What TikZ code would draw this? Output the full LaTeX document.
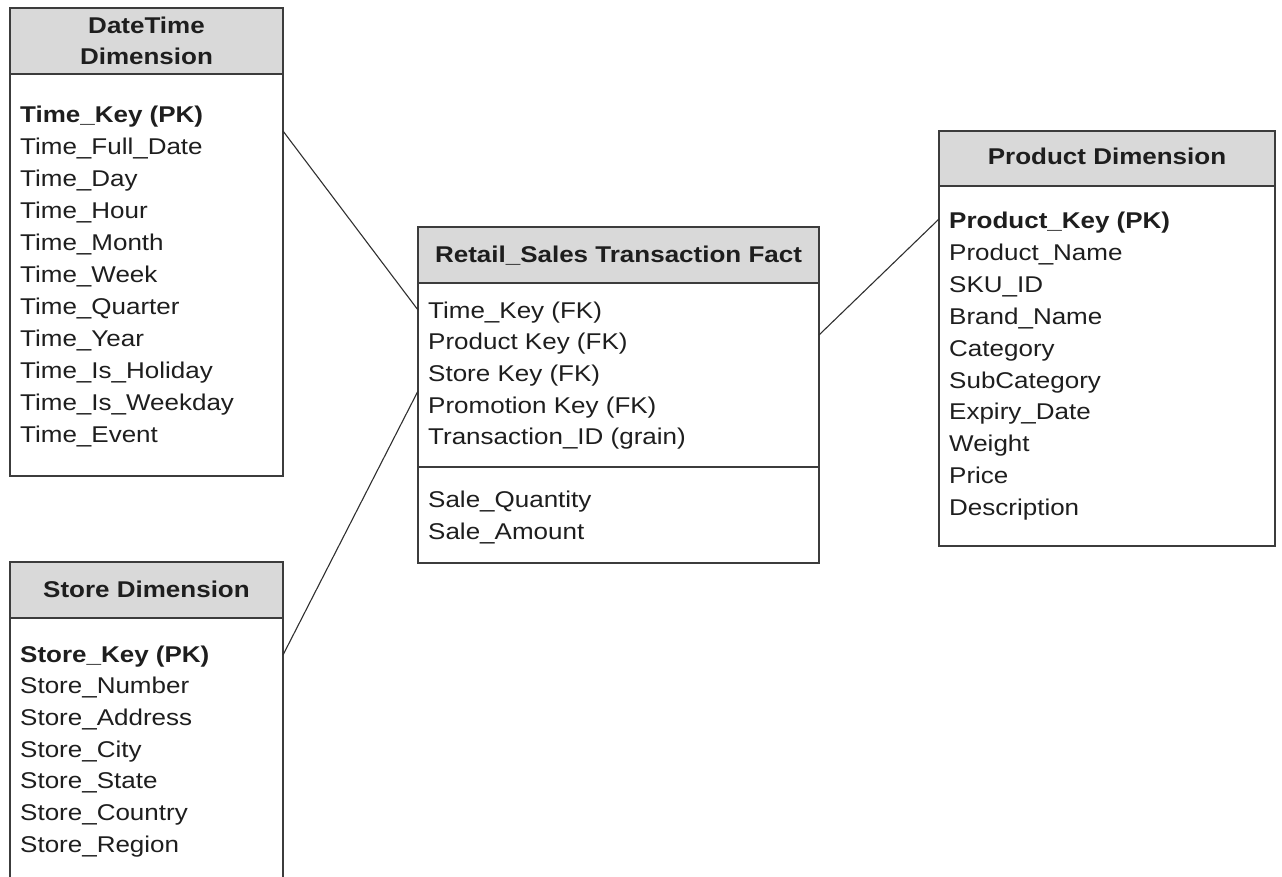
\documentclass[tikz,border=0pt]{standalone}
\usepackage{fontspec}
\setmainfont[FakeStretch=1.14]{Liberation Sans}
\definecolor{boxline}{HTML}{3C3C3C}
\definecolor{hdrgray}{HTML}{D9D9D9}
\definecolor{textcol}{HTML}{1E1E1E}
\definecolor{linkcol}{HTML}{303030}
\begin{document}
\begin{tikzpicture}[x=1pt,y=-1pt,
  box/.style={draw=boxline, line width=1.5pt, fill=white, anchor=north west, inner sep=0pt, outer sep=0pt},
  hdr/.style={box, fill=hdrgray},
  txt/.style={anchor=base west, inner sep=0pt, font=\fontsize{22.8}{26}\selectfont, text=textcol},
  btxt/.style={anchor=base west, inner sep=0pt, font=\fontsize{22.8}{26}\selectfont\bfseries, text=textcol},
  htxt/.style={anchor=base, inner sep=0pt, font=\fontsize{22.8}{26}\selectfont\bfseries, text=textcol},
  link/.style={draw=linkcol, line width=1.1pt}]
\useasboundingbox (0,0) rectangle (1282,877);

% ---------- DateTime Dimension ----------
\node[box, minimum width=273pt, minimum height=468pt] (dt) at (10,8) {};
\node[hdr, minimum width=273pt, minimum height=66pt] (dth) at (10,8) {};
\node[htxt] (dtt1) at (146.5,34) {DateTime};
\node[htxt] (dtt2) at (146.5,65) {Dimension};
\node[btxt] (dt0) at (20,123) {Time\_Key (PK)};
\foreach \t [count=\i] in {Time\_Full\_Date, Time\_Day, Time\_Hour, Time\_Month, Time\_Week, Time\_Quarter, Time\_Year, Time\_Is\_Holiday, Time\_Is\_Weekday, Time\_Event}
  \node[txt] (dt\i) at (20,{123+31.9*\i}) {\t};

% ---------- Store Dimension ----------
\node[box, minimum width=273pt, minimum height=340pt] (st) at (10,562) {};
\node[hdr, minimum width=273pt, minimum height=56pt] (sth) at (10,562) {};
\node[htxt] (stt) at (146.5,597) {Store Dimension};
\node[btxt] (st0) at (20,662) {Store\_Key (PK)};
\foreach \t [count=\i] in {Store\_Number, Store\_Address, Store\_City, Store\_State, Store\_Country, Store\_Region}
  \node[txt] (st\i) at (20,{662+31.7*\i}) {\t};

% ---------- Retail_Sales Transaction Fact ----------
\node[box, minimum width=401pt, minimum height=336pt] (fact) at (418,227) {};
\node[hdr, minimum width=401pt, minimum height=56pt] (facth) at (418,227) {};
\draw[boxline, line width=1.5pt] (fact.west |- 0,467) -- (fact.east |- 0,467);
\node[htxt] (factt) at (618.5,263) {Retail\_Sales Transaction Fact};
\foreach \t [count=\i from 0] in {Time\_Key (FK), Product Key (FK), Store Key (FK), Promotion Key (FK), Transaction\_ID (grain)}
  \node[txt] (fk\i) at (428,{318+31.7*\i}) {\t};
\node[txt] (fm1) at (428,507) {Sale\_Quantity};
\node[txt] (fm2) at (428,539) {Sale\_Amount};

% ---------- Product Dimension ----------
\node[box, minimum width=336pt, minimum height=415pt] (pr) at (939,131) {};
\node[hdr, minimum width=336pt, minimum height=55pt] (prh) at (939,131) {};
\node[htxt] (prt) at (1107,165) {Product Dimension};
\node[btxt] (pr0) at (949,229) {Product\_Key (PK)};
\foreach \t [count=\i] in {Product\_Name, SKU\_ID, Brand\_Name, Category, SubCategory, Expiry\_Date, Weight, Price, Description}
  \node[txt] (pr\i) at (949,{229+31.8*\i}) {\t};

% ---------- connectors ----------
\draw[link] (dt.east |- 0,131) -- (fact.west |- 0,310);
\draw[link] (st.east |- 0,655) -- (fact.west |- 0,391);
\draw[link] (fact.east |- 0,335) -- (pr.west |- 0,219);
\end{tikzpicture}
\end{document}
